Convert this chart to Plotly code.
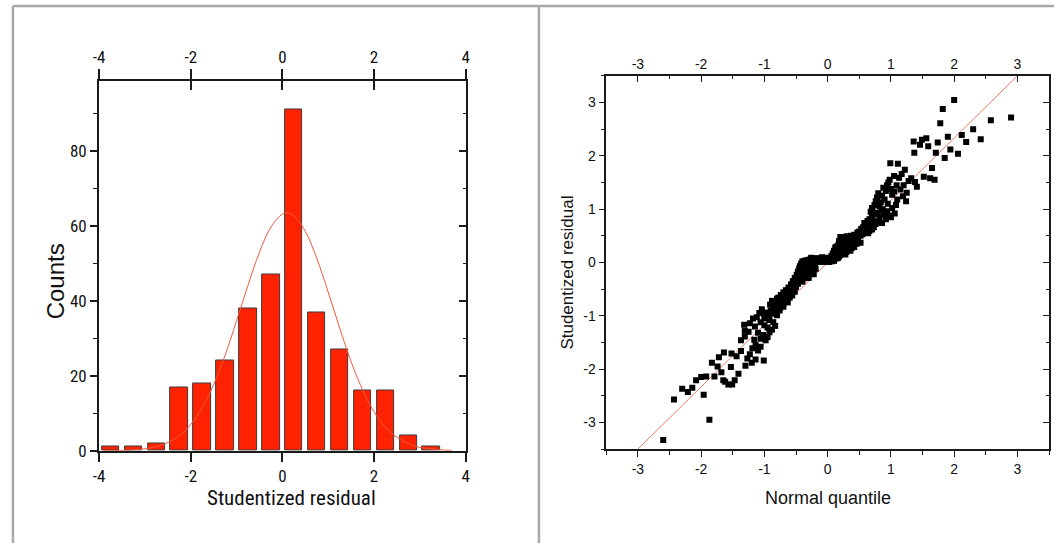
import plotly.graph_objects as go

# ---------------- data ----------------
# Histogram of studentized residuals (bin centres, bin width 0.5)
bin_centers = [-3.75, -3.25, -2.75, -2.25, -1.75, -1.25, -0.75, -0.25,
               0.25, 0.75, 1.25, 1.75, 2.25, 2.75, 3.25]
counts = [1, 1, 2, 17, 18, 24, 38, 47, 91, 37, 27, 16, 16, 4, 1]

# Fitted normal curve
fit_x = [-3.9, -3.5, -3, -2.75, -2.5, -2.25, -2, -1.75, -1.5, -1.25, -1, -0.75,
         -0.5, -0.25, 0, 0.1, 0.25, 0.5, 0.75, 1, 1.25, 1.5, 1.75, 2, 2.25,
         2.5, 2.75, 3, 3.5, 3.7]
fit_y = [0.0, 0.1, 0.5, 1.1, 2.2, 4.0, 7.0, 11.5, 17.7, 25.5, 34.7, 44.2,
         53.0, 59.7, 63.2, 63.5, 62.8, 58.6, 51.4, 42.4, 32.8, 23.8, 16.3, 10.4, 6.3,
         3.6, 1.9, 0.9, 0.2, 0.1]

hist_x_ticks = [-4, -2, 0, 2, 4]
hist_x_labels = ["-4", "-2", "0", "2", "4"]
hist_y_ticks = [0, 20, 40, 60, 80]
hist_y_labels = ["0", "20", "40", "60", "80"]

qq_ticks = [-3, -2, -1, 0, 1, 2, 3]
qq_labels = ["-3", "-2", "-1", "0", "1", "2", "3"]

# Normal probability plot points: (normal quantile, studentized residual)
qq_points = [
    # upper tail
    (2.00, 3.05), (1.82, 2.88), (1.78, 2.61), (2.58, 2.67), (2.90, 2.72), (2.30, 2.50),
    (2.12, 2.39), (1.90, 2.36), (1.74, 2.25), (1.56, 2.33), (1.49, 2.30), (1.36, 2.27),
    (1.46, 2.21), (1.59, 2.18), (2.19, 2.26), (2.42, 2.31), (1.94, 2.12), (2.06, 2.04),
    (1.71, 2.06), (1.85, 1.96), (1.37, 2.06), (1.65, 1.77), (0.99, 1.86), (1.11, 1.85),
    (1.22, 1.74), (1.17, 1.66), (1.13, 1.59), (1.32, 1.58), (1.52, 1.61), (1.62, 1.58),
    (1.69, 1.55), (1.38, 1.51), (0.96, 1.50), (1.09, 1.45), (1.41, 1.42), (0.92, 1.34),
    (1.25, 1.31), (1.02, 1.27), (0.78, 1.22), (1.19, 1.24), (1.24, 1.15), (0.84, 1.13),
    (1.10, 1.18), (1.05, 1.62), (1.28, 1.53), (0.98, 1.55),
    (0.80, 1.30), (0.86, 1.25), (0.88, 1.40), (0.94, 1.45), (1.00, 1.38), (1.05, 1.33),
    (1.15, 1.37), (1.20, 1.45), (0.74, 1.08), (0.76, 1.15), (0.82, 1.05), (0.90, 1.18),
    (0.95, 1.10), (1.02, 1.02), (1.08, 1.08), (0.70, 1.02), (0.87, 1.00),
    # 0.5 .. 1
    (0.71, 0.99), (0.94, 0.96), (1.06, 0.92), (0.92, 0.81), (0.66, 0.81), (0.60, 0.69),
    (0.76, 0.72), (0.66, 0.59), (0.53, 0.63), (0.47, 0.56), (0.37, 0.50),
    (0.68, 0.95), (0.73, 0.90), (0.78, 0.93), (0.85, 0.98), (0.88, 0.90), (0.97, 0.88),
    (1.00, 0.85), (0.82, 0.85), (0.70, 0.85), (0.63, 0.78), (0.72, 0.78), (0.80, 0.76),
    (0.86, 0.74), (0.58, 0.74), (0.68, 0.70), (0.73, 0.66), (0.56, 0.66), (0.62, 0.62),
    (0.50, 0.58), (0.58, 0.57), (0.70, 0.62), (0.42, 0.52), (0.48, 0.51), (0.55, 0.53),
    (0.64, 0.55), (0.52, 0.50),
    # 0 .. 0.5
    (0.20, 0.48), (0.26, 0.47), (0.30, 0.49), (0.35, 0.46), (0.40, 0.45), (0.45, 0.47),
    (0.28, 0.42), (0.34, 0.41), (0.38, 0.40), (0.44, 0.42), (0.48, 0.40), (0.18, 0.40),
    (0.22, 0.38), (0.27, 0.37), (0.31, 0.35), (0.36, 0.34), (0.40, 0.33), (0.46, 0.35),
    (0.52, 0.37), (0.17, 0.33), (0.21, 0.31), (0.25, 0.30), (0.30, 0.31), (0.14, 0.30),
    (0.34, 0.30),
    (0.12, 0.28), (0.16, 0.26), (0.20, 0.25), (0.24, 0.26), (0.28, 0.27), (0.32, 0.25),
    (0.38, 0.27), (0.42, 0.29), (0.10, 0.22), (0.14, 0.21), (0.18, 0.20), (0.22, 0.21),
    (0.26, 0.22), (0.30, 0.20), (0.36, 0.22), (0.08, 0.17), (0.12, 0.16), (0.16, 0.15),
    (0.20, 0.14), (0.24, 0.16), (0.28, 0.15), (0.06, 0.12), (0.10, 0.11), (0.14, 0.10),
    (0.18, 0.11),
    (0.12, 0.07), (0.08, 0.06), (0.04, 0.05), (0.00, 0.04), (-0.04, 0.04), (-0.08, 0.05),
    (-0.12, 0.04), (-0.16, 0.05), (-0.20, 0.04), (-0.24, 0.03), (-0.28, 0.02), (-0.32, 0.01),
    (0.10, 0.03), (0.06, 0.02), (0.02, 0.01), (-0.02, 0.02), (-0.06, 0.01), (-0.10, 0.02),
    (-0.14, 0.01), (-0.18, 0.02), (-0.22, 0.01), (0.14, 0.09), (0.16, 0.08), (0.04, 0.08),
    (-0.01, 0.07), (-0.06, 0.07), (-0.11, 0.08), (-0.15, 0.07), (-0.19, 0.08), (-0.23, 0.07),
    (-0.27, 0.06), (-0.30, 0.05), (-0.34, 0.04), (-0.37, 0.03), (0.09, 0.09), (-0.03, 0.09),
    (-0.09, 0.10), (-0.26, 0.09), (-0.40, 0.02), (-0.36, 0.01), (0.00, 0.01),
    # -0.5 .. 0
    (-0.42, -0.02), (-0.38, -0.03), (-0.34, -0.02), (-0.30, -0.03), (-0.26, -0.04), (-0.22, -0.03),
    (-0.44, -0.07), (-0.40, -0.08), (-0.36, -0.07), (-0.32, -0.08), (-0.28, -0.09), (-0.24, -0.08),
    (-0.20, -0.07), (-0.45, -0.12), (-0.41, -0.13), (-0.37, -0.12), (-0.33, -0.14), (-0.29, -0.13),
    (-0.25, -0.12), (-0.19, -0.12), (-0.47, -0.17), (-0.43, -0.18), (-0.39, -0.17), (-0.35, -0.19),
    (-0.30, -0.18), (-0.24, -0.17), (-0.49, -0.23), (-0.45, -0.24), (-0.41, -0.22), (-0.36, -0.24),
    (-0.31, -0.23), (-0.22, -0.22), (-0.52, -0.29), (-0.47, -0.30), (-0.43, -0.28), (-0.38, -0.30),
    (-0.30, -0.29), (-0.55, -0.35), (-0.50, -0.36), (-0.45, -0.34), (-0.40, -0.36),
    (-0.58, -0.41), (-0.53, -0.42), (-0.47, -0.40), (-0.62, -0.47), (-0.56, -0.48), (-0.50, -0.46),
    # -1 .. -0.5
    (-0.66, -0.52), (-0.60, -0.53), (-0.55, -0.51), (-0.70, -0.56), (-0.64, -0.58), (-0.58, -0.57),
    (-0.52, -0.55), (-0.74, -0.61), (-0.68, -0.62), (-0.62, -0.63), (-0.56, -0.62),
    (-0.78, -0.66), (-0.72, -0.67), (-0.66, -0.68), (-0.60, -0.66),
    (-0.88, -0.72), (-0.80, -0.68), (-0.67, -0.72), (-0.74, -0.73), (-0.84, -0.76), (-0.78, -0.78),
    (-0.70, -0.77), (-0.63, -0.75), (-0.91, -0.79), (-0.86, -0.82), (-0.75, -0.85), (-0.80, -0.86),
    (-0.70, -0.83), (-0.96, -0.94), (-1.04, -0.88), (-0.90, -0.90), (-0.84, -0.92), (-0.76, -0.90),
    (-1.00, -0.97), (-0.93, -0.98), (-0.86, -0.96), (-0.80, -0.99), (-1.08, -0.95),
    # -1.5 .. -1
    (-1.06, -1.43), (-0.98, -1.46), (-1.37, -1.46), (-1.31, -1.39), (-1.31, -1.28), (-1.32, -1.17),
    (-1.23, -1.14), (-1.12, -1.03), (-1.06, -1.12), (-0.92, -1.31), (-0.83, -1.19),
    (-1.18, -1.05), (-1.00, -1.05), (-0.92, -1.08), (-0.86, -1.12), (-1.15, -1.20), (-1.00, -1.18),
    (-0.95, -1.22), (-0.88, -1.26), (-1.25, -1.30), (-1.10, -1.32), (-1.02, -1.36), (-0.95, -1.40),
    (-1.16, -1.45),
    # -2 .. -1.5
    (-1.83, -1.88), (-1.72, -1.78), (-1.64, -1.69), (-1.74, -1.95), (-1.53, -1.96), (-1.52, -1.71),
    (-1.44, -1.76), (-1.37, -1.66), (-1.30, -1.94), (-1.14, -1.82), (-1.01, -1.84), (-1.23, -1.72),
    (-1.19, -1.61), (-1.14, -1.55), (-1.10, -1.65), (-1.06, -1.58), (-1.27, -1.80), (-1.20, -1.88),
    # -2.5 .. -2
    (-2.30, -2.37), (-2.21, -2.43), (-2.14, -2.35), (-1.96, -2.48), (-2.08, -2.21), (-2.00, -2.15),
    (-1.92, -2.14), (-1.79, -2.14), (-1.68, -2.06), (-1.65, -2.21), (-1.57, -2.29), (-1.51, -2.29),
    (-1.47, -2.21), (-1.41, -2.09), (-1.62, -2.24),
    # lower tail
    (-2.43, -2.57), (-1.87, -2.95), (-2.60, -3.33),
]
qq_x = [p[0] for p in qq_points]
qq_y = [p[1] for p in qq_points]

ref_x = [-3, 3]
ref_y = [-3.5, 3.5]

# ---------------- layout helpers ----------------
W, H = 1058, 553


def px_x(v):
    return v / W


def px_y(v):
    return 1 - v / H


NARROW = "Liberation Sans Narrow, Arial Narrow, Roboto Condensed, DejaVu Sans Condensed, sans-serif"
ARIAL = "Liberation Sans, Arial, sans-serif"
AX = "#1a1a1a"

fig = go.Figure()

# ----- left: histogram -----
fig.add_trace(go.Scatter(x=fit_x, y=fit_y, mode="lines", line=dict(color="#ef5a40", width=1, shape="spline"),
                         xaxis="x", yaxis="y", hoverinfo="skip", showlegend=False))
fig.add_trace(go.Bar(x=bin_centers, y=counts, width=0.38, marker=dict(color="#ff2200", line=dict(color="#3c3c3c", width=1)),
                     xaxis="x", yaxis="y", showlegend=False))
# empty traces to register overlay axes
fig.add_trace(go.Scatter(x=[], y=[], xaxis="x3", yaxis="y", showlegend=False))
fig.add_trace(go.Scatter(x=[], y=[], xaxis="x4", yaxis="y", showlegend=False))
fig.add_trace(go.Scatter(x=[], y=[], xaxis="x", yaxis="y3", showlegend=False))

# ----- right: normal probability plot -----
fig.add_trace(go.Scatter(x=ref_x, y=ref_y, mode="lines", line=dict(color="#f07a66", width=1),
                         xaxis="x2", yaxis="y2", hoverinfo="skip", showlegend=False))
fig.add_trace(go.Scatter(x=qq_x, y=qq_y, mode="markers",
                         marker=dict(symbol="square", size=6, color="#000000", line=dict(width=0)),
                         xaxis="x2", yaxis="y2", showlegend=False))
fig.add_trace(go.Scatter(x=[], y=[], xaxis="x5", yaxis="y2", showlegend=False))
fig.add_trace(go.Scatter(x=[], y=[], xaxis="x2", yaxis="y5", showlegend=False))

L_dom_x = [px_x(94), px_x(464)]
L_dom_y = [px_y(459), px_y(83)]
R_dom_x = [px_x(606), px_x(1053)]
R_dom_y = [px_y(457.3), px_y(77.3)]

common = dict(showgrid=False, zeroline=False, showline=True, linecolor=AX, tickcolor=AX)

fig.update_layout(
    width=W, height=H, margin=dict(l=0, r=0, t=0, b=0),
    paper_bgcolor="white", plot_bgcolor="white", showlegend=False, bargap=0,
    xaxis=dict(domain=L_dom_x, anchor="y", range=[-4, 4], tickvals=hist_x_ticks, ticktext=hist_x_labels,
               ticks="outside", ticklen=9, tickwidth=1.5, linewidth=2,
               tickfont=dict(family=NARROW, size=17, color="#111"), **common),
    xaxis3=dict(overlaying="x", side="top", anchor="y", range=[-4, 4], tickvals=hist_x_ticks, ticktext=hist_x_labels,
                ticks="outside", ticklen=10, tickwidth=1.5, linewidth=2,
                tickfont=dict(family=NARROW, size=17, color="#111"), **common),
    xaxis4=dict(overlaying="x", side="top", anchor="y", range=[-4, 4], tickvals=hist_x_ticks,
                ticks="inside", ticklen=9, tickwidth=1.5, showticklabels=False,
                showgrid=False, zeroline=False, showline=False, tickcolor=AX),
    yaxis=dict(domain=L_dom_y, anchor="x", range=[0, 98.6], tickvals=hist_y_ticks, ticktext=hist_y_labels,
               ticks="outside", ticklen=7, tickwidth=1.5, linewidth=2,
               minor=dict(dtick=10, tick0=0, ticks="outside", ticklen=4, tickwidth=1.2, tickcolor=AX),
               tickfont=dict(family=NARROW, size=17, color="#111"), **common),
    yaxis3=dict(overlaying="y", side="right", anchor="x", range=[0, 98.6], tickvals=hist_y_ticks,
                ticks="inside", ticklen=7, tickwidth=1.5, linewidth=1.5, showticklabels=False,
                minor=dict(dtick=10, tick0=0, ticks="inside", ticklen=3, tickwidth=1.2, tickcolor=AX),
                **common),

    xaxis2=dict(domain=R_dom_x, anchor="y2", range=[-3.5, 3.5], tickvals=qq_ticks, ticktext=qq_labels,
                ticks="outside", ticklen=6, tickwidth=1.2, linewidth=1.5,
                minor=dict(dtick=0.5, tick0=0, ticks="outside", ticklen=4, tickwidth=1.2, tickcolor=AX),
                tickfont=dict(family=ARIAL, size=14, color="#111"), **common),
    xaxis5=dict(overlaying="x2", side="top", anchor="y2", range=[-3.5, 3.5], tickvals=qq_ticks, ticktext=qq_labels,
                ticks="inside", ticklen=6, tickwidth=1.2, linewidth=1.5,
                minor=dict(dtick=0.5, tick0=0, ticks="inside", ticklen=3.5, tickwidth=1.2, tickcolor=AX),
                tickfont=dict(family=ARIAL, size=14, color="#111"), **common),
    yaxis2=dict(domain=R_dom_y, anchor="x2", range=[-3.5, 3.5], tickvals=qq_ticks, ticktext=qq_labels,
                ticks="outside", ticklen=6, tickwidth=1.2, linewidth=1.5,
                minor=dict(dtick=0.5, tick0=0, ticks="outside", ticklen=4, tickwidth=1.2, tickcolor=AX),
                tickfont=dict(family=ARIAL, size=14, color="#111"), **common),
    yaxis5=dict(overlaying="y2", side="right", anchor="x2", range=[-3.5, 3.5], tickvals=qq_ticks,
                ticks="inside", ticklen=6, tickwidth=1.2, linewidth=1.5, showticklabels=False,
                minor=dict(dtick=0.5, tick0=0, ticks="inside", ticklen=3.5, tickwidth=1.2, tickcolor=AX),
                **common),
)

# axis titles as annotations (explicitly centred)
ann = dict(xref="paper", yref="paper", showarrow=False, xanchor="center", yanchor="middle")
fig.add_annotation(text="Counts", x=px_x(50), y=px_y(287), textangle=-90,
                   font=dict(family=ARIAL, size=24, color="#111"), **ann)
fig.add_annotation(text="Studentized residual", x=px_x(288), y=px_y(507),
                   font=dict(family=NARROW, size=21, color="#111"), **ann)
fig.add_annotation(text="Studentized residual", x=px_x(567), y=px_y(278), textangle=-90,
                   font=dict(family=ARIAL, size=17, color="#111"), **ann)
fig.add_annotation(text="Normal quantile", x=px_x(830), y=px_y(507),
                   font=dict(family=ARIAL, size=18, color="#111"), **ann)

# gray panel frame
GRAY = "#a9a9a9"
fig.add_shape(type="line", xref="paper", yref="paper", x0=px_x(7), x1=px_x(7), y0=0, y1=px_y(6),
              line=dict(color=GRAY, width=2.5))
fig.add_shape(type="line", xref="paper", yref="paper", x0=px_x(538), x1=px_x(538), y0=0, y1=px_y(6),
              line=dict(color=GRAY, width=2.5))
fig.add_shape(type="line", xref="paper", yref="paper", x0=px_x(7), x1=1, y0=px_y(6), y1=px_y(6),
              line=dict(color=GRAY, width=2.5))

fig.write_html("out.html", config={"displayModeBar": False},
               post_script="document.body.style.margin='0px';document.body.style.overflow='hidden';")
